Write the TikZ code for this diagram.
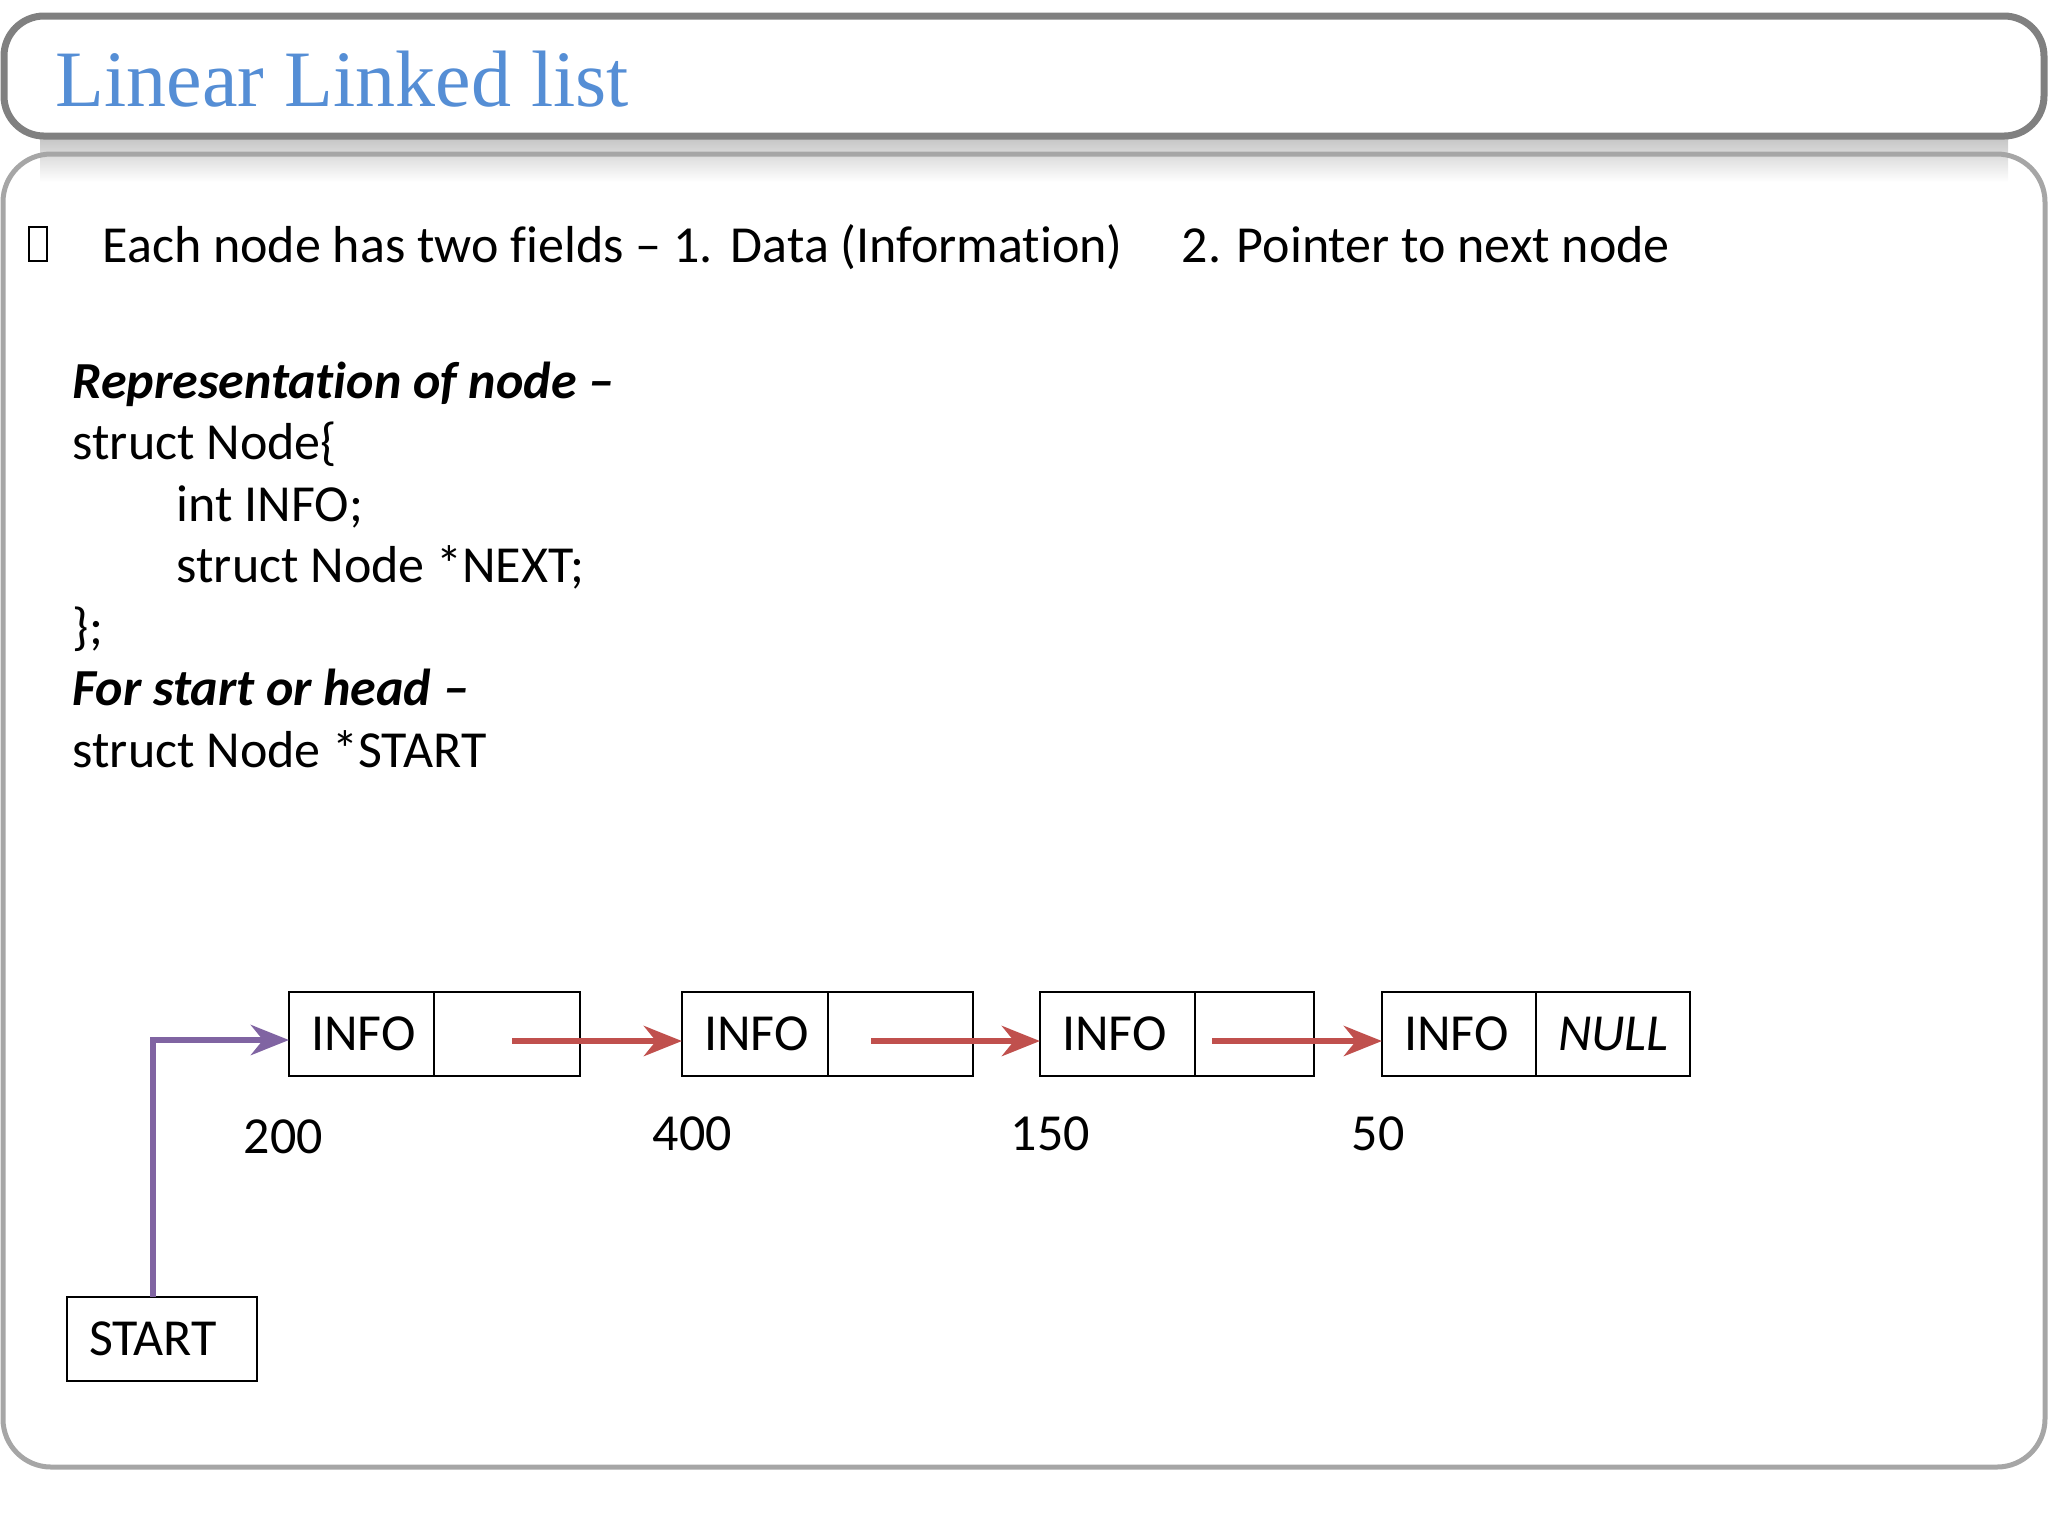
\documentclass[tikz,border=0pt]{standalone}
\usepackage{fontspec}
\setmainfont[Ligatures=NoCommon]{Carlito}
\newfontfamily\titlefont{Liberation Serif}
\usetikzlibrary{positioning,arrows.meta}
\definecolor{ctitle}{RGB}{85,142,213}
\definecolor{cred}{RGB}{192,80,77}
\definecolor{cpurple}{RGB}{128,100,162}
\newcommand{\bodysize}{\fontsize{13pt}{15pt}\selectfont}
\tikzset{
  slide/.style={x=0.25pt,y=-0.25pt},
  txt/.style={anchor=base west,inner sep=0pt,font=\bodysize},
  cell/.style={draw,line width=0.7pt,inner xsep=5.5pt,inner ysep=0pt,outer sep=0pt,
    minimum height=21pt,text width=#1,align=left,font=\bodysize},
  link/.style={line width=1.6pt,-{Stealth[length=9.5pt,width=7.5pt,inset=3pt]}}
}

\begin{document}
\begin{tikzpicture}[slide]
  \useasboundingbox (0,0) rectangle (2048,1536);
  % title bar and body frame
  \shade[top color=black!22,bottom color=white] (40,139) rectangle (2008,182);
  \draw[black!50,line width=1.75pt,fill=white,rounded corners=10pt] (4,16) rectangle (2044,136);
  \draw[black!35,line width=1.25pt,rounded corners=12pt] (3,154) rectangle (2045,1467);
  \node[txt,text=ctitle,font=\titlefont\fontsize{20pt}{24pt}\selectfont] (title) at (55,106) {Linear Linked list};

  % first line
  \draw[line width=0.35pt] (29,227) rectangle (47,261);
  \node[txt] (fields) at (102,262) {Each node has two fields – 1.};
  \node[txt] (data) at (730,262) {Data (Information)};
  \node[txt] (pointer) at (1181,262) {2. Pointer to next node};

  % structure
  \node[txt,font=\bodysize\bfseries\itshape] (repr) at (72,398) {Representation of node –};
  \node[txt] (sline1) at (72,459.5) {struct Node\{};
  \node[txt] (sline2) at (176,521) {int INFO;};
  \node[txt] (sline3) at (176,582.5) {struct Node *NEXT;};
  \node[txt] (sline4) at (72,644) {\};};
  \node[txt,font=\bodysize\bfseries\itshape] (head) at (72,705.5) {For start or head –};
  \node[txt] (sline5) at (72,767) {struct Node *START};

  % list
  \node[cell=25.25pt,anchor=north west] (info1) at (289,992) {INFO};
  \node[cell=25.5pt,right=0pt of info1] (next1) {};
  \node[cell=25.5pt,anchor=north west] (info2) at (682,992) {INFO};
  \node[cell=25.25pt,right=0pt of info2] (next2) {};
  \node[cell=27.75pt,anchor=north west] (info3) at (1040,992) {INFO};
  \node[cell=18.75pt,right=0pt of info3] (next3) {};
  \node[cell=27.5pt,anchor=north west] (info4) at (1382,992) {INFO};
  \node[cell=27.5pt,right=0pt of info4,font=\bodysize\itshape] (next4) {NULL};
  \node[cell=36.5pt,anchor=north west] (start) at (67,1297) {START};

  \node[txt] (addr1) at (243,1153) {200};
  \node[txt] (addr2) at (652,1150) {400};
  \node[txt] (addr3) at (1010,1150) {150};
  \node[txt] (addr4) at (1351,1150) {50};

  \coordinate (bend) at (153,1040);
  \coordinate (from1) at (512,1041);
  \coordinate (from2) at (871,1041);
  \coordinate (from3) at (1212,1041);
  \draw[link,cpurple] (start.north -| bend) -- (bend) -- (bend -| info1.west);
  \foreach \a/\b in {1/2,2/3,3/4}
    \draw[link,cred] (from\a) -- (from\a -| info\b.west);
\end{tikzpicture}
\end{document}
